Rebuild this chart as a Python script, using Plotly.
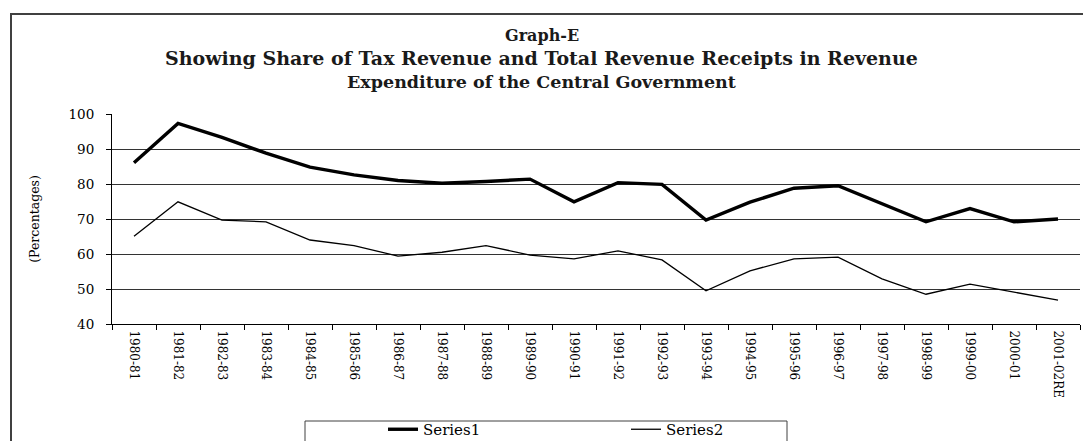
import plotly.graph_objects as go

# Fiscal years on the category axis
years = ["1980-81", "1981-82", "1982-83", "1983-84", "1984-85", "1985-86",
         "1986-87", "1987-88", "1988-89", "1989-90", "1990-91", "1991-92",
         "1992-93", "1993-94", "1994-95", "1995-96", "1996-97", "1997-98",
         "1998-99", "1999-00", "2000-01", "2001-02RE"]

# Share in revenue expenditure (percentages)
series1 = [86.1, 97.3, 93.3, 88.8, 84.8, 82.6, 81.0, 80.2, 80.7, 81.4, 74.9,
           80.4, 79.9, 69.7, 74.8, 78.8, 79.5, 74.3, 69.2, 73.0, 69.2, 70.0]
series2 = [65.1, 74.9, 69.7, 69.2, 64.0, 62.4, 59.4, 60.5, 62.4, 59.7, 58.6,
           60.9, 58.3, 49.5, 55.2, 58.6, 59.1, 52.9, 48.5, 51.4, 49.1, 46.8]

y_ticks = [40, 50, 60, 70, 80, 90, 100]

title_lines = ["Graph-E",
               "Showing Share of Tax Revenue and Total Revenue Receipts in Revenue",
               "Expenditure of the Central Government"]

W, H = 1083, 441
ML, MR, MT, MB = 112, 3, 114, 117
PW, PH = W - ML - MR, H - MT - MB


def px_x(x):
    return (x - ML) / PW


def px_y(y):
    return (H - MB - y) / PH


SERIF = "DejaVu Serif"

fig = go.Figure()
fig.add_trace(go.Scatter(x=years, y=series1, mode="lines", name="Series1",
                         line=dict(color="black", width=3.4)))
fig.add_trace(go.Scatter(x=years, y=series2, mode="lines", name="Series2",
                         line=dict(color="black", width=1.3)))

fig.update_layout(
    width=W, height=H,
    margin=dict(l=ML, r=MR, t=MT, b=MB, pad=0, autoexpand=False),
    paper_bgcolor="white", plot_bgcolor="white",
    font=dict(family=SERIF, color="black", size=12),
    showlegend=True,
    legend=dict(
        orientation="h",
        xref="container", x=383 / W, xanchor="left",
        yref="container", y=1 - 413 / H, yanchor="top",
        bgcolor="rgba(0,0,0,0)", borderwidth=0,
        entrywidth=198, entrywidthmode="pixels",
        font=dict(family=SERIF, size=15, color="black"),
    ),
    xaxis=dict(
        type="category", tickson="boundaries", automargin=False,
        showline=True, linecolor="black", linewidth=1,
        ticks="outside", ticklen=5, tickcolor="black",
        tickangle=90, tickfont=dict(family=SERIF, size=12),
        ticklabelstandoff=3,
        showgrid=False, zeroline=False,
        range=[-0.5, len(years) - 0.5],
    ),
    yaxis=dict(
        range=[40, 100], tickvals=y_ticks, automargin=False,
        showline=True, linecolor="black", linewidth=1,
        ticks="outside", ticklen=5, tickcolor="black",
        tickfont=dict(family=SERIF, size=13.5),
        ticklabelstandoff=9,
        showgrid=True, gridcolor="#333333", gridwidth=1,
        zeroline=False,
        title=dict(text="(Percentages)", standoff=26,
                   font=dict(family=SERIF, size=12.5)),
    ),
)

# Three-line bold heading
title_y = [35, 58, 82]
title_size = [16, 19, 17.5]
for text, ty, fs in zip(title_lines, title_y, title_size):
    fig.add_annotation(text=f"<b>{text}</b>", xref="paper", yref="paper",
                       x=px_x(W / 2), y=px_y(ty), xanchor="center", yanchor="middle",
                       showarrow=False,
                       font=dict(family=SERIF, size=fs, color="#1a1a1a"))

# Outer chart frame
fig.add_shape(type="rect", xref="paper", yref="paper",
              x0=px_x(11), x1=px_x(W + 20), y0=px_y(H + 20), y1=px_y(14),
              line=dict(color="#404040", width=2), fillcolor="rgba(0,0,0,0)",
              layer="below")
# Legend frame
fig.add_shape(type="rect", xref="paper", yref="paper",
              x0=px_x(305), x1=px_x(787), y0=px_y(H + 20), y1=px_y(421),
              line=dict(color="#404040", width=1), fillcolor="rgba(0,0,0,0)",
              layer="below")

fig.write_html("out.html")
